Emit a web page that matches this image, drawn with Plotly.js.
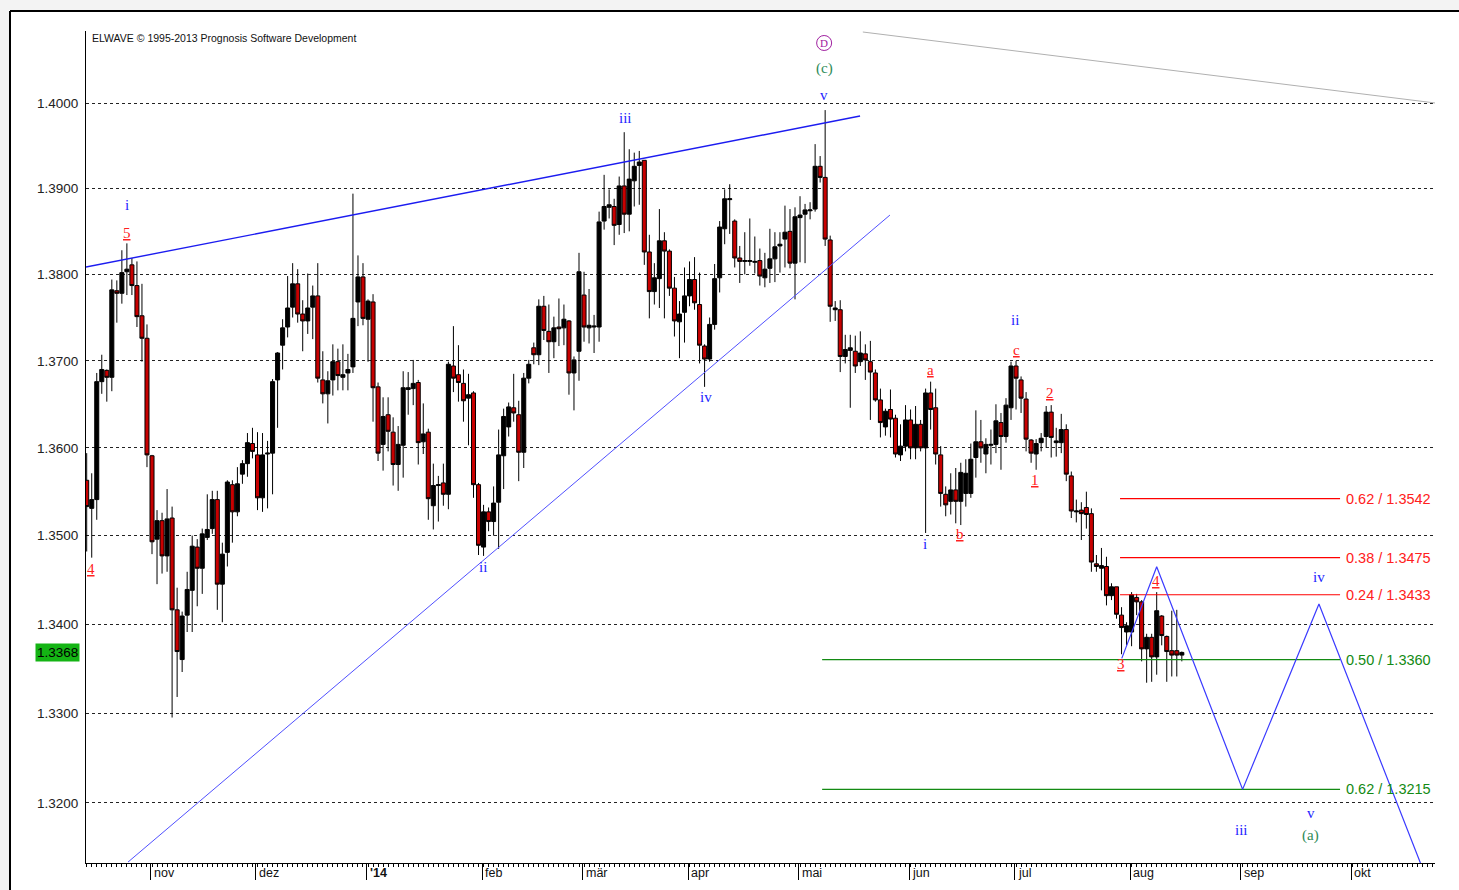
<!DOCTYPE html>
<html>
<head>
<meta charset="utf-8">
<script src="https://cdn.plot.ly/plotly-3.0.1.min.js"></script>
<style>
html,body{margin:0;padding:0;background:#fff;}
#chart{width:1459px;height:890px;}
</style>
</head>
<body>
<div id="chart"></div>
<script>
// ---- Daily EUR/USD candles (trading-day index, first candle = index -13) ----
const firstIndex = -13;
const opens = [
1.3563,1.3531,1.3541,1.3676,1.3689,1.3681,1.3781,1.3778,1.3803,1.3811,1.3787,1.3752,1.3726,
1.3591,1.3496,1.3517,1.3477,1.3520,1.3416,1.3360,1.3410,1.3438,1.3487,1.3463,1.3498,1.3508,1.3541,1.3445,1.3481,1.3558,1.3527,1.3570,1.3582,1.3605,
1.3592,1.3543,1.3593,1.3594,1.3678,1.3718,1.3739,1.3762,1.3789,1.3754,1.3746,1.3762,1.3775,1.3678,1.3662,1.3678,1.3699,1.3681,1.3686,1.3693,1.3768,1.3797,
1.3748,1.3768,1.3670,1.3604,1.3638,1.3618,1.3581,1.3603,1.3667,1.3668,1.3675,1.3607,1.3618,1.3534,1.3557,1.3560,1.3547,1.3694,1.3684,1.3674,1.3657,1.3663,1.3558,
1.3487,1.3527,1.3516,1.3538,1.3591,1.3624,1.3646,1.3638,1.3595,1.3680,1.3715,1.3707,1.3763,1.3734,1.3722,1.3739,1.3738,1.3746,1.3686,1.3711,
1.3776,1.3738,1.3739,1.3739,1.3862,1.3878,1.3879,1.3858,1.3903,1.3870,1.3909,1.3927,1.3933,1.3826,1.3780,1.3795,1.3839,1.3827,1.3784,1.3745,1.3756,
1.3775,1.3794,1.3765,1.3717,1.3702,1.3742,1.3796,1.3853,1.3887,1.3862,1.3819,1.3815,1.3815,1.3814,1.3816,1.3796,1.3807,1.3818,1.3833,1.3841,1.3850,1.3813,
1.3866,1.3870,1.3874,1.3876,1.3926,1.3913,1.3840,1.3759,1.3759,1.3705,1.3712,1.3711,1.3699,1.3708,1.3699,1.3686,1.3655,1.3624,1.3644,1.3634,1.3592,
1.3602,1.3632,1.3600,1.3627,1.3600,1.3663,1.3646,1.3592,1.3547,1.3539,1.3552,1.3539,1.3548,1.3548,1.3589,1.3607,1.3593,1.3603,1.3604,1.3629,1.3613,1.3646,
1.3694,1.3678,1.3656,1.3609,1.3593,1.3606,1.3613,1.3641,1.3606,1.3606,1.3621,1.3568,1.3527,1.3529,1.3532,1.3525,1.3468,1.3463,1.3465,1.3432,1.3442,1.3410,1.3391,
1.3391,1.3430,1.3425,1.3372,1.3385,1.3363,1.3409,1.3386,1.3370,1.3370,1.3365
];
const highs = [
1.3594,1.3571,1.3686,1.3707,1.3690,1.3794,1.3793,1.3828,1.3836,1.3819,1.3815,1.3789,1.3742,
1.3592,1.3529,1.3526,1.3553,1.3533,1.3441,1.3414,1.3459,1.3500,1.3496,1.3508,1.3547,1.3551,1.3551,1.3492,1.3563,1.3563,1.3578,1.3586,1.3617,1.3623,
1.3618,1.3617,1.3608,1.3679,1.3710,1.3748,1.3798,1.3813,1.3806,1.3770,1.3801,1.3787,1.3813,1.3711,1.3688,1.3719,1.3714,1.3719,1.3708,1.3894,1.3822,1.3813,
1.3771,1.3777,1.3675,1.3658,1.3658,1.3635,1.3625,1.3688,1.3687,1.3701,1.3678,1.3651,1.3622,1.3582,1.3568,1.3582,1.3699,1.3740,1.3718,1.3690,1.3685,1.3665,1.3560,
1.3535,1.3532,1.3556,1.3621,1.3645,1.3652,1.3685,1.3654,1.3686,1.3701,1.3721,1.3771,1.3775,1.3765,1.3751,1.3772,1.3765,1.3747,1.3705,1.3825,
1.3803,1.3783,1.3753,1.3873,1.3916,1.3899,1.3888,1.3914,1.3966,1.3946,1.3942,1.3944,1.3933,1.3846,1.3813,1.3876,1.3849,1.3829,1.3797,1.3769,1.3808,
1.3815,1.3820,1.3802,1.3719,1.3750,1.3812,1.3862,1.3899,1.3905,1.3864,1.3833,1.3849,1.3865,1.3844,1.3830,1.3825,1.3853,1.3849,1.3849,1.3880,1.3876,1.3878,
1.3891,1.3882,1.3884,1.3952,1.3938,1.3992,1.3845,1.3769,1.3770,1.3730,1.3730,1.3729,1.3734,1.3719,1.3723,1.3690,1.3668,1.3645,1.3667,1.3638,1.3627,
1.3649,1.3644,1.3648,1.3632,1.3668,1.3676,1.3668,1.3602,1.3556,1.3571,1.3577,1.3583,1.3587,1.3605,1.3643,1.3632,1.3611,1.3621,1.3650,1.3640,1.3657,1.3699,
1.3700,1.3682,1.3664,1.3610,1.3610,1.3617,1.3648,1.3649,1.3623,1.3639,1.3627,1.3573,1.3541,1.3538,1.3550,1.3531,1.3478,1.3486,1.3476,1.3446,1.3442,1.3419,1.3402,
1.3436,1.3434,1.3427,1.3389,1.3389,1.3436,1.3410,1.3387,1.3415,1.3416,1.3369
];
const lows = [
1.3482,1.3475,1.3518,1.3662,1.3653,1.3665,1.3744,1.3766,1.3776,1.3776,1.3739,1.3699,1.3578,
1.3479,1.3445,1.3457,1.3459,1.3295,1.3318,1.3346,1.3391,1.3391,1.3420,1.3434,1.3495,1.3502,1.3416,1.3402,1.3465,1.3492,1.3522,1.3559,1.3567,1.3588,
1.3529,1.3527,1.3531,1.3547,1.3623,1.3690,1.3727,1.3750,1.3744,1.3711,1.3731,1.3725,1.3675,1.3651,1.3628,1.3660,1.3666,1.3666,1.3666,1.3686,1.3740,1.3741,
1.3699,1.3630,1.3585,1.3574,1.3596,1.3557,1.3551,1.3566,1.3638,1.3649,1.3581,1.3593,1.3518,1.3507,1.3516,1.3534,1.3530,1.3664,1.3653,1.3630,1.3603,1.3543,1.3478,
1.3477,1.3505,1.3500,1.3485,1.3553,1.3613,1.3630,1.3562,1.3577,1.3674,1.3696,1.3695,1.3724,1.3686,1.3703,1.3717,1.3718,1.3661,1.3643,1.3677,
1.3722,1.3720,1.3709,1.3722,1.3852,1.3865,1.3834,1.3846,1.3848,1.3850,1.3879,1.3881,1.3811,1.3749,1.3765,1.3761,1.3749,1.3775,1.3728,1.3703,1.3721,
1.3763,1.3759,1.3697,1.3670,1.3699,1.3736,1.3779,1.3835,1.3847,1.3808,1.3790,1.3800,1.3810,1.3801,1.3787,1.3785,1.3790,1.3791,1.3802,1.3808,1.3807,1.3771,
1.3814,1.3813,1.3864,1.3873,1.3907,1.3833,1.3745,1.3746,1.3687,1.3697,1.3646,1.3686,1.3694,1.3678,1.3632,1.3653,1.3612,1.3614,1.3612,1.3589,1.3585,
1.3596,1.3587,1.3587,1.3596,1.3503,1.3621,1.3581,1.3533,1.3522,1.3524,1.3514,1.3512,1.3533,1.3543,1.3566,1.3583,1.3571,1.3581,1.3594,1.3575,1.3606,1.3632,
1.3644,1.3640,1.3596,1.3583,1.3575,1.3596,1.3600,1.3589,1.3590,1.3594,1.3562,1.3520,1.3515,1.3495,1.3508,1.3459,1.3459,1.3438,1.3421,1.3427,1.3406,1.3366,1.3376,
1.3375,1.3410,1.3358,1.3334,1.3335,1.3343,1.3376,1.3335,1.3341,1.3341,1.3358
];
const closes = [
1.3533,1.3541,1.3676,1.3690,1.3681,1.3782,1.3778,1.3802,1.3806,1.3787,1.3751,1.3726,1.3592,
1.3493,1.3517,1.3477,1.3519,1.3416,1.3369,1.3409,1.3439,1.3488,1.3463,1.3502,1.3507,1.3541,1.3445,1.3479,1.3561,1.3527,1.3559,1.3582,1.3606,1.3596,
1.3543,1.3592,1.3594,1.3676,1.3709,1.3738,1.3761,1.3789,1.3754,1.3746,1.3761,1.3775,1.3680,1.3662,1.3677,1.3699,1.3683,1.3684,1.3690,1.3749,1.3797,1.3749,
1.3769,1.3669,1.3594,1.3636,1.3619,1.3581,1.3604,1.3669,1.3669,1.3674,1.3606,1.3616,1.3542,1.3557,1.3558,1.3547,1.3696,1.3680,1.3675,1.3654,1.3661,1.3558,1.3489,
1.3527,1.3516,1.3537,1.3592,1.3636,1.3647,1.3640,1.3595,1.3680,1.3696,1.3707,1.3763,1.3735,1.3722,1.3738,1.3737,1.3748,1.3686,1.3701,1.3803,
1.3739,1.3741,1.3740,1.3861,1.3879,1.3881,1.3857,1.3903,1.3870,1.3911,1.3926,1.3931,1.3826,1.3780,1.3796,1.3839,1.3827,1.3784,1.3746,1.3754,1.3775,
1.3794,1.3767,1.3718,1.3702,1.3742,1.3795,1.3855,1.3888,1.3888,1.3819,1.3815,1.3816,1.3816,1.3815,1.3798,1.3806,1.3818,1.3832,1.3835,1.3849,1.3813,1.3867,
1.3869,1.3875,1.3875,1.3926,1.3913,1.3841,1.3763,1.3761,1.3705,1.3713,1.3715,1.3694,1.3709,1.3701,1.3687,1.3655,1.3629,1.3642,1.3633,1.3593,1.3602,
1.3632,1.3600,1.3627,1.3600,1.3663,1.3644,1.3593,1.3548,1.3535,1.3552,1.3539,1.3572,1.3571,1.3587,1.3607,1.3600,1.3604,1.3604,1.3631,1.3613,1.3649,1.3694,
1.3680,1.3657,1.3610,1.3594,1.3605,1.3611,1.3641,1.3612,1.3608,1.3621,1.3570,1.3528,1.3528,1.3525,1.3524,1.3470,1.3465,1.3466,1.3432,1.3442,1.3411,1.3396,1.3398,
1.3433,1.3425,1.3372,1.3385,1.3363,1.3415,1.3387,1.3369,1.3365,1.3365,1.3368
];

// ---- axis labels ----
const priceTicks = [1.32,1.33,1.34,1.35,1.36,1.37,1.38,1.39,1.40];
const monthLabels = ['nov','dez',"<b>'14</b>",'feb','mär','apr','mai','jun','jul','aug','sep','okt'];
const monthStartIndex = [0,21,43,66,86,107,129,151,172,195,217,239];
const lastPrice = 1.3368;
const copyright = 'ELWAVE © 1995-2013 Prognosis Software Development';

// ---- wave geometry (trading-day index, price) ----
const upperTrendIdx = [-13.14, 140.95];
const upperTrendPx  = [1.38085, 1.39850];
const lowerTrendIdx = [-4.78, 146.9];
const lowerTrendPx  = [1.31343, 1.38690];
const grayLineIdx = [141.5, 255.4];
const grayLinePx  = [1.40842, 1.40004];
const projectionIdx = [193.05, 200.0, 217.1, 232.3, 252.5];
const projectionPx  = [1.33613, 1.34647, 1.32149, 1.34225, 1.31333];

// ---- Fibonacci levels ----
const fibRedRatio = ['0.62','0.38','0.24'];
const fibRedLevel = [1.3542, 1.3475, 1.3433];
const fibRedFrom = 192.7;
const fibGreenRatio = ['0.50','0.62'];
const fibGreenLevel = [1.3360, 1.3215];
const fibGreenFrom = 133.4;
const fibTo = 236.5;

// ---- wave labels: [text, index, price] ----
const blueLabels = [['i',-5.0,1.38807],['ii',65.9,1.34643],['iii',94.2,1.39827],['iv',110.3,1.36583],['v',133.8,1.40098],
  ['i',153.9,1.34904],['ii',171.8,1.37471],['iv',232.3,1.34530],['iii',216.8,1.31697],['v',230.7,1.31886]];
const redLabels = [['5',-5.0,1.38481],['4',-12.14,1.34617],['a',154.9,1.36894],['b',160.9,1.35018],['c',172.0,1.37124],
  ['1',175.8,1.35633],['2',178.8,1.36629],['3',192.9,1.33549],['4',199.9,1.34485]];
const greenLabels = [['(c)',133.8,1.40416],['(a)',230.7,1.31642]];
const circledLabels = [['D',133.8,1.40712]];

// ================= build =================
const dayIndex = opens.map((_, k) => firstIndex + k);
const lg = v => Math.log10(v);
const SANS = 'Arial, "Liberation Sans", sans-serif';
const SERIF = '"Times New Roman", "Liberation Serif", serif';

const traces = [];
traces.push({
  type: 'candlestick', x: dayIndex, open: opens, high: highs, low: lows, close: closes,
  increasing: {line: {color: '#000', width: 1}, fillcolor: '#000'},
  decreasing: {line: {color: '#000', width: 1}, fillcolor: '#c80000'},
  whiskerwidth: 0, hoverinfo: 'skip', showlegend: false
});
function line(x, y, color, width) {
  traces.push({type: 'scatter', mode: 'lines', x: x, y: y, line: {color: color, width: width},
    hoverinfo: 'skip', showlegend: false, cliponaxis: true});
}
line(upperTrendIdx, upperTrendPx, '#1c1cf0', 1.4);
line(lowerTrendIdx, lowerTrendPx, '#5050ff', 1);
line(grayLineIdx, grayLinePx, '#b0b0b0', 1);
fibRedLevel.forEach(v => line([fibRedFrom, fibTo], [v, v], '#ff0000', 1.2));
fibGreenLevel.forEach(v => line([fibGreenFrom, fibTo], [v, v], '#138a13', 1.2));
line(projectionIdx, projectionPx, '#3a3aff', 1.2);
// circle around the "D" degree label
traces.push({type: 'scatter', mode: 'markers', x: circledLabels.map(l => l[1]), y: circledLabels.map(l => l[2]),
  marker: {symbol: 'circle-open', size: 15, color: '#a020a0', line: {width: 1, color: '#a020a0'}},
  hoverinfo: 'skip', showlegend: false, cliponaxis: false});

const annotations = [];
annotations.push({xref: 'paper', yref: 'paper', x: 0, y: 1, xanchor: 'left', yanchor: 'middle',
  xshift: 4, yshift: -7, text: copyright, showarrow: false, font: {family: SANS, size: 10.5, color: '#111'}});
monthLabels.forEach((t, k) => annotations.push({xref: 'x', yref: 'paper', x: monthStartIndex[k] - 0.3, y: 0,
  xanchor: 'left', yanchor: 'middle', xshift: 1, yshift: -10, text: t, showarrow: false,
  font: {family: SANS, size: 12.5, color: '#111'}}));
annotations.push({xref: 'paper', yref: 'y', x: 0, y: lg(lastPrice), xanchor: 'right', yanchor: 'middle', xshift: -6,
  text: lastPrice.toFixed(4), showarrow: false, bgcolor: '#14b414', borderpad: 1,
  font: {family: SANS, size: 13.5, color: '#000'}});
fibRedLevel.forEach((v, k) => annotations.push({x: fibTo, y: lg(v), xanchor: 'left', yanchor: 'middle', xshift: 4,
  text: fibRedRatio[k] + ' / ' + v.toFixed(4), showarrow: false, font: {family: SANS, size: 14.5, color: '#ff2020'}}));
fibGreenLevel.forEach((v, k) => annotations.push({x: fibTo, y: lg(v), xanchor: 'left', yanchor: 'middle', xshift: 4,
  text: fibGreenRatio[k] + ' / ' + v.toFixed(4), showarrow: false, font: {family: SANS, size: 14.5, color: '#138a13'}}));
blueLabels.forEach(l => annotations.push({x: l[1], y: lg(l[2]), text: l[0], showarrow: false,
  font: {family: SERIF, size: 15, color: '#2424ff'}}));
redLabels.forEach(l => annotations.push({x: l[1], y: lg(l[2]), text: '<u>' + l[0] + '</u>', showarrow: false,
  font: {family: SERIF, size: 15, color: '#ff2020'}}));
greenLabels.forEach(l => annotations.push({x: l[1], y: lg(l[2]), text: l[0], showarrow: false,
  font: {family: SERIF, size: 15, color: '#2e8b57'}}));
circledLabels.forEach(l => annotations.push({x: l[1], y: lg(l[2]), text: l[0], showarrow: false,
  font: {family: SERIF, size: 11, color: '#a020a0'}}));

const shapes = [];
// window frame around the chart
const W = 1459, H = 890, L = 86, R = 24, T = 31, B = 27;
const pw = W - L - R, ph = H - T - B;
const px = v => (v - L) / pw, py = v => (H - B - v) / ph;
shapes.push({type: 'rect', xref: 'paper', yref: 'paper', x0: px(0), x1: px(9), y0: py(H), y1: py(0),
  fillcolor: '#f3f3f3', line: {width: 0}, layer: 'below'});
shapes.push({type: 'rect', xref: 'paper', yref: 'paper', x0: px(0), x1: px(W), y0: py(10), y1: py(0),
  fillcolor: '#f3f3f3', line: {width: 0}, layer: 'below'});
shapes.push({type: 'line', xref: 'paper', yref: 'paper', x0: px(10), x1: px(10), y0: py(11), y1: py(H),
  line: {color: '#000', width: 2}});
shapes.push({type: 'line', xref: 'paper', yref: 'paper', x0: px(10), x1: px(W), y0: py(11), y1: py(11),
  line: {color: '#000', width: 2}});

const layout = {
  width: W, height: H,
  margin: {l: L, r: R, t: T, b: B, pad: 0},
  paper_bgcolor: '#fff', plot_bgcolor: '#fff',
  showlegend: false,
  boxgap: 0.2, boxgroupgap: 0,
  xaxis: {
    type: 'linear', range: [-13.14, 255.4], rangeslider: {visible: false},
    showgrid: false, zeroline: false, showline: true, linecolor: '#000', linewidth: 1,
    tickmode: 'array', tickvals: monthStartIndex.map(v => v - 0.3), ticks: 'outside', ticklen: 16,
    tickcolor: '#000', tickwidth: 1, showticklabels: false,
    minor: {ticks: 'outside', ticklen: 3, tickcolor: '#000', tickwidth: 1, dtick: 1, tick0: 0, showgrid: false},
    fixedrange: true
  },
  yaxis: {
    type: 'log', range: [lg(1.31333), lg(1.40854)],
    tickmode: 'array', tickvals: priceTicks, ticktext: priceTicks.map(v => v.toFixed(4)),
    showgrid: true, gridcolor: '#222', gridwidth: 1, griddash: '3px,3px',
    zeroline: false, showline: true, linecolor: '#000', linewidth: 1,
    ticks: 'outside', ticklen: 4, tickcolor: 'rgba(0,0,0,0)',
    tickfont: {family: SANS, size: 13.5, color: '#222'}, fixedrange: true
  },
  annotations: annotations,
  shapes: shapes
};

Plotly.newPlot('chart', traces, layout, {displayModeBar: false, staticPlot: true});
</script>
</body>
</html>
